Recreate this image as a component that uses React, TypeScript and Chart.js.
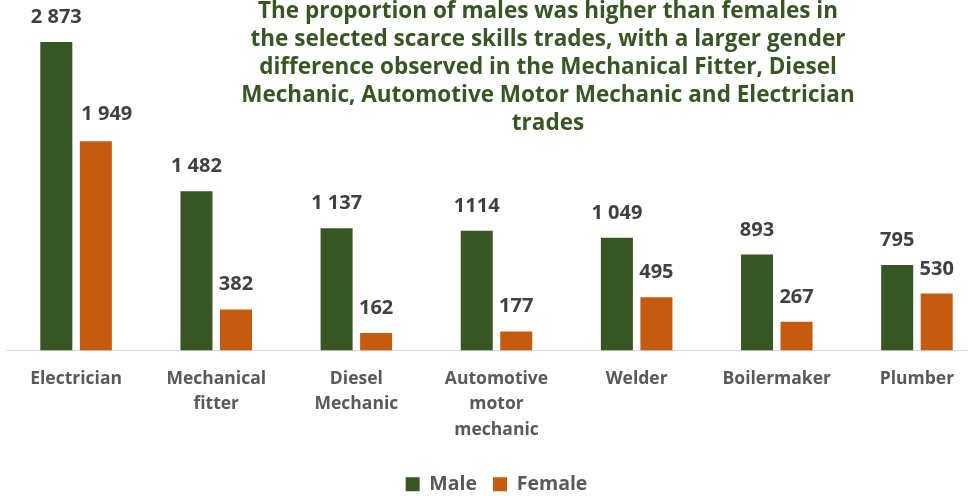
import React, { useEffect, useRef } from "react";
import { Chart, registerables } from "chart.js";

Chart.register(...registerables);

const categories: (string | string[])[] = [
  "Electrician",
  ["Mechanical", "fitter"],
  ["Diesel", "Mechanic"],
  ["Automotive", "motor", "mechanic"],
  "Welder",
  "Boilermaker",
  "Plumber",
];
const maleValues = [2873, 1482, 1137, 1114, 1049, 893, 795];
const femaleValues = [1949, 382, 162, 177, 495, 267, 530];
const maleLabels = ["2 873", "1 482", "1 137", "1114", "1 049", "893", "795"];
const femaleLabels = ["1 949", "382", "162", "177", "495", "267", "530"];
const seriesNames = ["Male", "Female"];
const titleLines = [
  "The proportion of males was higher than females in",
  "the selected scarce skills trades, with a larger gender",
  "difference observed in the Mechanical Fitter, Diesel",
  "Mechanic, Automotive Motor Mechanic and Electrician",
  "trades",
];

const GREEN = "#375623";
const ORANGE = "#C55A11";
const FONT = "'Open Sans'";

const labelPlugin = {
  id: "valueLabels",
  afterDatasetsDraw(chart: any) {
    const ctx = chart.ctx;
    const texts = [maleLabels, femaleLabels];
    ctx.save();
    ctx.font = `bold 20px ${FONT}`;
    ctx.fillStyle = "#404040";
    ctx.textAlign = "center";
    ctx.textBaseline = "alphabetic";
    chart.data.datasets.forEach((_ds: any, di: number) => {
      const meta = chart.getDatasetMeta(di);
      meta.data.forEach((bar: any, i: number) => {
        // the first female label was nudged right in the original
        const dx = di === 1 && i === 0 ? 11 : 0;
        const dy = di === 1 && i === 0 ? 21 : 19;
        ctx.fillText(texts[di][i], bar.x + dx, bar.y - dy);
      });
    });
    ctx.restore();
  },
};

const titlePlugin = {
  id: "overlayTitle",
  afterDraw(chart: any) {
    const ctx = chart.ctx;
    ctx.save();
    ctx.font = `bold 22.5px ${FONT}`;
    ctx.fillStyle = GREEN;
    ctx.textAlign = "center";
    ctx.textBaseline = "alphabetic";
    titleLines.forEach((line, i) => {
      ctx.fillText(line, 548, 18 + i * 28);
    });
    ctx.restore();
  },
};

export default function App() {
  const ref = useRef<HTMLCanvasElement>(null);
  useEffect(() => {
    document.body.style.margin = "0";
    const canvas = ref.current!;
    const chart = new Chart(canvas, {
      type: "bar",
      data: {
        labels: categories,
        datasets: [
          {
            label: seriesNames[0],
            data: maleValues,
            backgroundColor: GREEN,
            borderWidth: 0,
          },
          {
            label: seriesNames[1],
            data: femaleValues,
            backgroundColor: ORANGE,
            borderWidth: 0,
          },
        ],
      },
      options: {
        responsive: false,
        animation: false,
        devicePixelRatio: 1,
        layout: { padding: { top: 7, left: 6, right: 3, bottom: -8 } },
        datasets: {
          bar: { categoryPercentage: 0.564, barPercentage: 0.81 },
        },
        scales: {
          x: {
            grid: { display: false, drawTicks: false },
            border: { display: true, color: "#D9D9D9", width: 1 },
            ticks: {
              color: "#595959",
              font: { family: FONT, size: 17.5, weight: "bold", lineHeight: 1.45 },
              padding: 16,
              maxRotation: 0,
              autoSkip: false,
            },
          },
          y: { display: false, min: 0, max: 3200 },
        },
        plugins: {
          legend: {
            position: "bottom",
            labels: {
              color: "#595959",
              font: { family: FONT, size: 19.5, weight: "bold" },
              boxWidth: 14,
              boxHeight: 14,
              padding: 16,
            },
          },
          tooltip: { enabled: false },
          title: { display: false },
        },
      },
      plugins: [labelPlugin, titlePlugin],
    });
    return () => chart.destroy();
  }, []);
  return (
    <div
      style={{
        position: "fixed",
        left: 0,
        top: 0,
        width: 968,
        height: 496,
        overflow: "hidden",
        background: "#fff",
      }}
    >
      <canvas ref={ref} width={990} height={496} style={{ display: "block" }} />
    </div>
  );
}
